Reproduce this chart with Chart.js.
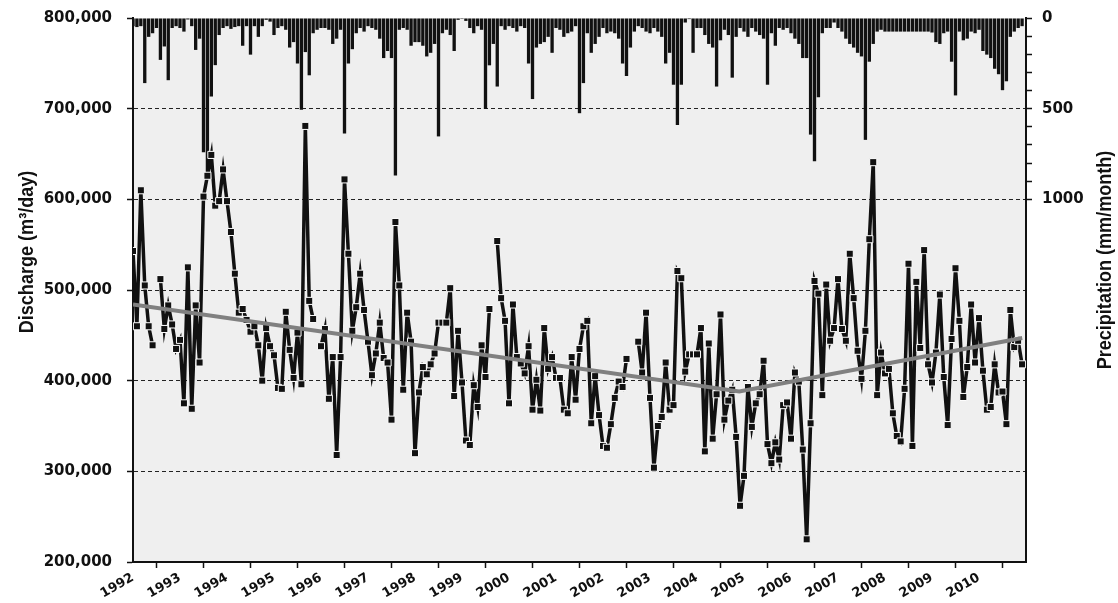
<!DOCTYPE html>
<html>
<head>
<meta charset="utf-8">
<script src="https://cdn.jsdelivr.net/npm/chart.js@4.4.0/dist/chart.umd.min.js"></script>
<style>
html,body{margin:0;padding:0;background:#fff;}
#wrap{width:1118px;height:603px;position:relative;}
</style>
</head>
<body>
<div id="wrap"><canvas id="c"></canvas></div>
<script>
// ---- data ----
const startYear = 1992;            // first month = Jan 1992, monthly series
const yearTickLabels = [1992,1993,1994,1995,1996,1997,1998,1999,2000,2001,2002,2003,2004,2005,2006,2007,2008,2009,2010];
const dischargeTicks = [200000,300000,400000,500000,600000,700000,800000];
const precipTickLabels = [0,500,1000];

// monthly discharge (m3/day), Jan 1992 - Dec 2010 (null = missing month)
const discharge = [
 543000,460000,610000,505000,460000,439000,null,512000,457000,483000,462000,435000,
 445000,375000,525000,369000,483000,420000,603000,626000,649000,593000,598000,633000,
 598000,564000,518000,475000,479000,467000,454000,460000,439000,400000,458000,438000,
 428000,392000,391000,476000,434000,403000,453000,396000,681000,488000,468000,null,
 438000,457000,380000,426000,318000,426000,622000,540000,455000,481000,518000,478000,
 443000,406000,430000,464000,425000,420000,357000,575000,505000,390000,475000,443000,
 320000,387000,415000,407000,418000,430000,464000,464000,464000,502000,383000,455000,
 398000,334000,329000,395000,371000,439000,404000,479000,null,554000,491000,466000,
 375000,484000,426000,419000,408000,438000,368000,401000,367000,458000,413000,426000,
 403000,403000,368000,364000,426000,379000,435000,460000,466000,353000,405000,362000,
 328000,326000,352000,381000,399000,393000,424000,null,null,443000,409000,475000,
 381000,304000,350000,360000,420000,368000,373000,521000,513000,410000,429000,429000,
 429000,458000,322000,441000,336000,385000,473000,357000,378000,390000,338000,262000,
 295000,393000,349000,375000,385000,422000,330000,309000,332000,313000,373000,376000,
 336000,409000,399000,324000,225000,353000,510000,496000,384000,506000,444000,458000,
 512000,457000,444000,540000,491000,433000,402000,455000,556000,641000,384000,431000,
 408000,413000,364000,339000,333000,391000,529000,328000,509000,436000,544000,418000,
 398000,431000,495000,404000,351000,446000,524000,466000,382000,415000,484000,420000,
 469000,411000,368000,371000,418000,387000,388000,352000,478000,437000,444000,418000
];

// monthly precipitation (mm/month), Jan 1992 - Dec 2010
const precipitation = [
 45,50,45,359,104,84,55,231,157,343,55,45,
 55,75,8,45,176,114,741,878,433,260,94,55,
 45,60,50,45,153,45,202,45,104,45,10,20,
 94,55,45,65,163,133,251,506,188,316,84,65,
 55,55,65,143,114,65,637,251,172,84,55,75,
 45,55,65,114,221,182,221,868,65,55,65,153,
 133,133,153,212,192,143,653,84,65,94,182,10,
 5,16,55,84,45,65,502,261,143,378,45,65,
 45,55,75,45,55,251,447,163,143,133,104,192,
 55,65,104,84,75,45,525,359,84,192,143,104,
 55,84,75,84,114,251,320,163,75,45,55,75,
 84,55,75,104,251,192,368,590,368,25,6,192,
 55,55,94,143,163,378,123,65,94,329,104,55,
 75,104,55,75,94,114,368,84,153,55,65,55,
 84,114,143,221,221,643,790,437,84,55,55,25,
 55,75,114,143,163,192,212,672,241,143,75,65,
 75,75,75,75,75,75,75,75,75,75,75,75,
 80,133,143,84,75,241,427,75,123,114,75,84,
 65,182,202,221,280,310,398,349,104,75,55,45
];

// piecewise linear trend of discharge
const trendYears = [1992, 2004.9, 2010.92];
const trendValues = [484000, 388000, 447000];

// ---- build chart ----
const monthX = i => startYear + i / 12;
const dischargePts = discharge.map((v, i) => ({x: monthX(i), y: v}));
const precipPts = precipitation.map((v, i) => ({x: monthX(i), y: v}));
const trendPts = trendYears.map((x, i) => ({x: x, y: trendValues[i]}));

const tickFont = {family: "'DejaVu Sans', Verdana, sans-serif", weight: 'bold', size: 15};
const xFont = {family: "'DejaVu Sans', Verdana, sans-serif", weight: 'bold', size: 13};
const titleFont = "bold 21px 'Liberation Sans', Arial, sans-serif";
const titleSqueeze = 0.86;
const ink = '#111';

function drawTitle(ctx, text, x, y) {
  ctx.save();
  ctx.translate(x, y);
  ctx.rotate(-Math.PI / 2);
  ctx.scale(titleSqueeze, 1);
  ctx.fillText(text, 0, 0);
  ctx.restore();
}

const decor = {
  id: 'decor',
  beforeDraw(chart) {
    const {ctx, chartArea: a} = chart;
    ctx.save();
    ctx.fillStyle = '#efefef';
    ctx.fillRect(a.left, a.top, a.right - a.left, a.bottom - a.top);
    ctx.restore();
  },
  afterDraw(chart) {
    const {ctx, chartArea: a} = chart;
    ctx.save();
    ctx.font = titleFont;
    ctx.fillStyle = ink;
    ctx.textAlign = 'center';
    ctx.textBaseline = 'middle';
    drawTitle(ctx, 'Discharge (m³/day)', a.left - 106, a.top + 234);
    drawTitle(ctx, 'Precipitation (mm/month)', a.right + 79, a.top + 242);
    ctx.restore();
  }
};

new Chart(document.getElementById('c'), {
  type: 'line',
  data: {
    datasets: [
      {
        label: 'Trend',
        type: 'line',
        data: trendPts,
        yAxisID: 'y',
        borderColor: '#808080',
        borderWidth: 4,
        pointRadius: 0,
        tension: 0,
        order: 1
      },
      {
        label: 'Discharge',
        type: 'line',
        data: dischargePts,
        yAxisID: 'y',
        borderColor: ink,
        borderWidth: 3.5,
        pointStyle: 'rect',
        pointRadius: 5,
        pointBackgroundColor: ink,
        pointBorderColor: '#ffffff',
        pointBorderWidth: 1,
        spanGaps: false,
        tension: 0,
        order: 2
      },
      {
        label: 'Precipitation',
        type: 'bar',
        data: precipPts,
        yAxisID: 'y2',
        backgroundColor: ink,
        borderWidth: 0,
        barPercentage: 0.85,
        categoryPercentage: 1,
        order: 3
      }
    ]
  },
  options: {
    responsive: true,
    maintainAspectRatio: false,
    animation: false,
    layout: {padding: {top: 18, right: 0, bottom: 0, left: 0}},
    plugins: {legend: {display: false}, tooltip: {enabled: false}},
    scales: {
      x: {
        type: 'linear',
        position: 'bottom',
        min: yearTickLabels[0],
        max: yearTickLabels[yearTickLabels.length - 1] + 1,
        offset: false,
        ticks: {
          stepSize: 1,
          autoSkip: false,
          minRotation: 30,
          maxRotation: 30,
          padding: 2,
          color: ink,
          font: xFont,
          callback: v => String(v)
        },
        afterBuildTicks: s => { s.ticks = s.ticks.filter(t => yearTickLabels.includes(t.value)); },
        grid: {drawOnChartArea: false, drawTicks: true, tickLength: 6, tickColor: ink, tickWidth: 1.5},
        border: {display: true, color: ink, width: 2},
        afterFit: s => { s.height = 41; }
      },
      y: {
        type: 'linear',
        position: 'left',
        min: dischargeTicks[0],
        max: dischargeTicks[dischargeTicks.length - 1],
        ticks: {
          stepSize: 100000,
          autoSkip: false,
          padding: 15,
          color: ink,
          font: tickFont,
          callback: v => v.toLocaleString('en-US')
        },
        grid: {
          color: c => (c.tick && (c.tick.value === dischargeTicks[0] || c.tick.value === dischargeTicks[dischargeTicks.length - 1])) ? 'rgba(0,0,0,0)' : '#222',
          lineWidth: 1,
          tickLength: 6,
          tickColor: ink,
          tickWidth: 1.5
        },
        border: {display: true, color: ink, width: 2, dash: [4, 3]},
        afterFit: s => { s.width = 133; s.paddingTop = 0; s.paddingBottom = 0; }
      },
      y2: {
        type: 'linear',
        position: 'right',
        reverse: true,
        min: 0,
        max: 3000,
        ticks: {
          stepSize: 100,
          autoSkip: false,
          padding: 10,
          color: ink,
          font: tickFont,
          callback: v => precipTickLabels.includes(v) ? String(v) : ''
        },
        afterBuildTicks: s => { s.ticks = s.ticks.filter(t => t.value <= precipTickLabels[precipTickLabels.length - 1]); },
        grid: {drawOnChartArea: false, drawTicks: true, tickLength: 6, tickColor: ink, tickWidth: 1.5},
        border: {display: true, color: ink, width: 2},
        afterFit: s => { s.width = 92; s.paddingTop = 0; s.paddingBottom = 0; }
      }
    }
  },
  plugins: [decor]
});
</script>
</body>
</html>
